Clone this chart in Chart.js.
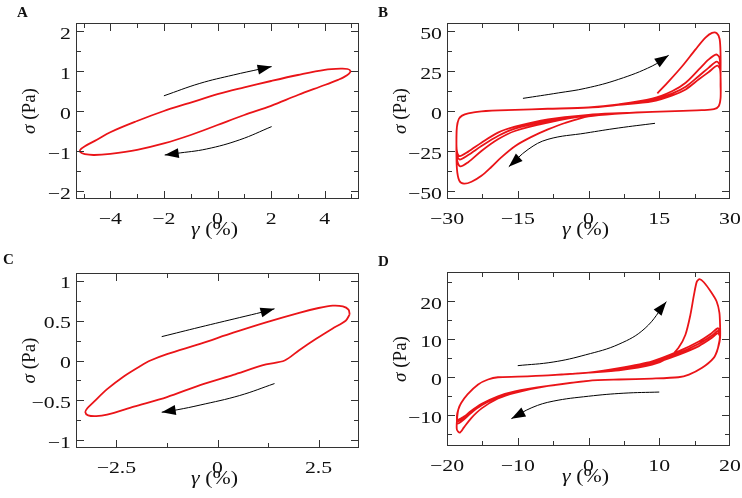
<!DOCTYPE html>
<html>
<head>
<meta charset="utf-8">
<script src="https://cdn.jsdelivr.net/npm/chart.js@4.4.0/dist/chart.umd.min.js"></script>
<style>
	html, body { margin: 0; padding: 0; background: #fff; }
	#wrap { position: relative; width: 742px; height: 498px; overflow: hidden; }
	canvas { position: absolute; }
</style>
</head>
<body>
<div id="wrap">
	<canvas id="pA" width="371" height="249" style="left:0;top:0"></canvas>
	<canvas id="pB" width="371" height="249" style="left:371px;top:0"></canvas>
	<canvas id="pC" width="371" height="249" style="left:0;top:249px"></canvas>
	<canvas id="pD" width="371" height="249" style="left:371px;top:249px"></canvas>
</div>
<script>
const FONT = "'Liberation Serif', 'Times New Roman', Times, serif";
const RED = '#ea1418';
const FRAME = '#333';
const TEXT = '#111';
const STRETCH = 1.28; // the source lettering is wide

// ---- panel A ----
const aXTicks = [-4, -2, 0, 2, 4];
const aXMinor = [-5, -3, -1, 1, 3, 5];
const aYTicks = [-2, -1, 0, 1, 2];
const aYMinor = [-1.5, -0.5, 0.5, 1.5];
const aLoop = [[-1.1,0.19],[-1,0.21],[0,0.42],[1,0.59],[2,0.75],[3,0.9],[4,1.03],[4.6,1.06],[4.85,1.05],[4.96,1.0],[4.9,0.93],[4.7,0.84],
	[4.5,0.78],[4,0.65],[3,0.4],[2,0.13],[1,-0.1],[0,-0.35],[-1,-0.6],[-2,-0.81],[-3,-0.97],[-4,-1.07],[-4.6,-1.1],
	[-4.95,-1.08],[-5.12,-1.03],[-5.12,-0.97],[-4.95,-0.88],[-4.5,-0.72],[-4,-0.53],[-3,-0.25],[-2,0.0],[-1.1,0.19]];
const aArrowUp = [[-2.0,0.38],[-0.66,0.69],[0.59,0.9],[1.6,1.05],[2.02,1.11]];
const aArrowDown = [[2.02,-0.39],[0.83,-0.72],[-0.41,-0.95],[-1.53,-1.06],[-1.97,-1.1]];

// ---- panel B ----
const bXTicks = [-30, -15, 0, 15, 30];
const bXMinor = [-22.5, -7.5, 7.5, 22.5];
const bYTicks = [-50, -25, 0, 25, 50];
const bYMinor = [-37.5, -12.5, 12.5, 37.5];
const bUp1 = [[14.6,11],[17.1,18.8],[19.9,28.1],[22.7,38.5],[24.8,45.8],[26.2,48.8],[27.2,48.6],[27.8,45],[28,35],[28,20],[28,8],[27.6,3],[26.6,1.1]];
const bDown1 = [[24,0.5],[20,0.1],[13.5,-0.6],[6.4,-1.6],[0,-3.4],[-5,-7.5],[-8.6,-11.5],[-12.1,-16.2],[-15.6,-22],[-18.5,-29],
	[-20.6,-35],[-22.7,-40.5],[-24.8,-44.2],[-26.4,-45.4],[-27.4,-43.5],[-27.9,-36],[-28,-22],[-27.9,-10],[-27.5,-5],[-26.8,-2.9],
	[-25.5,-1.5],[-22.7,-0.2],[-15.6,0.7],[-8.6,1.4],[0,2.3],[6.4,4.2]];
const bUp2 = [[13.5,7.7],[17.8,12.5],[20.6,17.7],[23.4,26],[25.5,32.3],[27.1,35.3],[27.8,33],[28,22],[28,8],[27.6,3],[26.6,1.1]];
const bDown2 = [[24,0.5],[20,0.1],[13.5,-0.6],[6.4,-1.6],[0,-2.8],[-8.6,-7.3],[-15.6,-12.5],[-19.2,-17.7],[-22.7,-25],[-25.5,-32],
	[-27.2,-34.6],[-27.9,-30],[-28,-20],[-27.9,-10],[-27.5,-5],[-26.8,-2.9],[-25.5,-1.5],[-22.7,-0.2],[-15.6,0.7],[-8.6,1.4],[0,2.2],[6.4,4.0]];
const bUp3 = [[13.5,6.9],[17.8,11],[20.6,15.2],[23.4,21.9],[25.5,27.1],[27.2,30.8],[27.9,28],[28,18],[28,8],[27.6,3],[26.6,1.1]];
const bDown3 = [[24,0.5],[20,0.1],[13.5,-0.6],[6.4,-1.5],[0,-2.6],[-8.6,-6.3],[-15.6,-11],[-19.2,-15.6],[-22.7,-21.9],[-25.5,-27.5],
	[-27.3,-30.3],[-27.9,-27],[-28,-18],[-27.9,-10],[-27.5,-5],[-26.8,-2.9],[-25.5,-1.5],[-22.7,-0.2],[-15.6,0.7],[-8.6,1.3],[0,2.1],[6.4,3.8]];
const bUp4 = [[13.5,6.0],[17.8,9.8],[20.6,13.5],[23.4,19.8],[25.5,24.4],[27.3,28.3],[27.9,26],[28,16],[28,8],[27.6,3],[26.6,1.1]];
const bDown4 = [[24,0.5],[20,0.1],[13.5,-0.6],[6.4,-1.4],[0,-2.4],[-8.6,-5.2],[-15.6,-9.8],[-19.2,-13.5],[-22.7,-19.8],[-25.5,-25.4],
	[-27.3,-28.2],[-27.9,-25],[-28,-16],[-27.9,-10],[-27.5,-5],[-26.8,-2.9],[-25.5,-1.5],[-22.7,-0.2],[-15.6,0.7],[-8.6,1.3],[0,2.1]];
const bArrowUp = [[-13.9,7.9],[-6.4,11.3],[-0.6,14.2],[6.4,19.8],[13.5,28.1],[17,34.8]];
const bArrowDown = [[14.1,-7.7],[6.4,-10.6],[-0.6,-13.8],[-8.6,-17.7],[-12.8,-24],[-16.9,-34.8]];

// ---- panel C ----
const cXTicks = [-2.5, 0, 2.5];
const cXMinor = [-1.25, 1.25];
const cYTicks = [-1, -0.5, 0, 0.5, 1];
const cYMinor = [-0.75, -0.25, 0.25, 0.75];
const cLoop = [[3.27,0.58],[3.24,0.64],[3.1,0.68],[2.85,0.69],[2.5,0.66],[2.02,0.6],[1.2,0.48],[0.39,0.35],[-0.43,0.21],[-1.25,0.08],[-1.66,0.0],
	[-1.91,-0.07],[-2.32,-0.2],[-2.73,-0.36],[-3.06,-0.52],[-3.22,-0.6],[-3.27,-0.65],[-3.2,-0.69],[-3.0,-0.7],[-2.73,-0.68],[-2.07,-0.58],
	[-1.25,-0.46],[-0.43,-0.31],[0.39,-0.18],[1.2,-0.05],[1.66,0.0],[2.02,0.13],[2.43,0.27],[2.84,0.4],[3.17,0.5],[3.27,0.58]];
const cArrowUp = [[-1.38,0.3],[-0.43,0.42],[0.55,0.54],[1.12,0.61],[1.41,0.65]];
const cArrowDown = [[1.41,-0.29],[0.55,-0.44],[-0.43,-0.56],[-1.0,-0.62],[-1.38,-0.65]];

// ---- panel D ----
const dXTicks = [-20, -10, 0, 10, 20];
const dXMinor = [-15, -5, 5, 15];
const dYTicks = [-10, 0, 10, 20];
const dYMinor = [-15, -5, 5, 15, 25];
const dUp1 = [[0,1.2],[4.3,1.8],[9,3.3],[11.3,5.1],[12.7,7.7],[13.7,11.2],[14.4,16.4],[14.9,21.6],[15.3,25.1],[15.7,25.8],[16.3,25],
	[17.3,22.5],[18.1,20],[18.5,17],[18.6,13.5],[18.6,10.5],[18.3,7.7],[17.7,5.1],[16,2.4],[14.2,0.7],[12.7,0]];
const dDown1 = [[9,-0.35],[4.3,-0.6],[0,-0.95],[-5.7,-2.3],[-10.4,-4.1],[-12.8,-5.6],[-15.1,-8.2],[-16.6,-10.8],[-17.6,-13.2],[-18.2,-14.6],
	[-18.6,-13.8],[-18.6,-11.5],[-18.4,-8.5],[-18,-6.8],[-17.1,-4.5],[-15.6,-1.9],[-14.2,-0.6],[-12.8,0],[-10,0.15],[-5.7,0.5],[0,1.2]];
const dUp2 = [[4.3,2.4],[9,4.2],[12.7,6.8],[15.6,9.4],[17.4,11.6],[18.3,12.9],[18.6,11.5],[18.3,7.7],[17.7,5.1],[16,2.4],[14.2,0.7],[12.7,0]];
const dDown2 = [[9,-0.35],[4.3,-0.6],[0,-0.95],[-5.7,-2.3],[-10.4,-3.9],[-12.8,-5.2],[-15.1,-7.4],[-16.6,-9.4],[-17.8,-11.4],[-18.5,-12.2],
	[-18.6,-11],[-18.4,-8.5],[-18,-6.8],[-17.1,-4.5],[-15.6,-1.9],[-14.2,-0.6],[-12.8,0],[-10,0.15],[-5.7,0.5],[0,1.2]];
const dUp3 = [[4.3,2.2],[9,3.9],[12.7,6.3],[15.6,8.8],[17.4,10.9],[18.3,12.2],[18.6,11],[18.3,7.7],[17.7,5.1],[16,2.4],[14.2,0.7],[12.7,0]];
const dDown3 = [[9,-0.35],[4.3,-0.6],[0,-0.95],[-5.7,-2.3],[-10.4,-3.7],[-12.8,-5.0],[-15.1,-7.0],[-16.6,-8.9],[-17.8,-10.8],[-18.5,-11.6],
	[-18.6,-10.5],[-18.4,-8.5],[-18,-6.8],[-17.1,-4.5],[-15.6,-1.9],[-14.2,-0.6],[-12.8,0],[-10,0.15],[-5.7,0.5],[0,1.2]];
const dUp4 = [[4.3,2.0],[9,3.6],[12.7,5.9],[15.6,8.2],[17.4,10.3],[18.3,11.6],[18.6,10.5],[18.3,7.7],[17.7,5.1],[16,2.4],[14.2,0.7],[12.7,0]];
const dDown4 = [[9,-0.35],[4.3,-0.6],[0,-0.95],[-5.7,-2.3],[-10.4,-3.8],[-12.8,-5.1],[-15.1,-7.2],[-16.6,-9.1],[-17.8,-10.6],[-18.5,-11.2],
	[-18.6,-10.2],[-18.4,-8.5],[-18,-6.8],[-17.1,-4.5],[-15.6,-1.9],[-14.2,-0.6],[-12.8,0],[-10,0.15],[-5.7,0.5],[0,1.2]];
const dArrowUp = [[-10,3.05],[-5,4.0],[-0.4,5.9],[4.3,8.7],[8,12.9],[11,19.9]];
const dArrowDown = [[10,-3.9],[5,-4.2],[0,-5],[-5,-6.3],[-8,-8],[-10.9,-10.9]];

function fmt(v){
	return String(v).replace('-', '\u2212');
}
function pts(arr){
	return arr.map(p => ({x: p[0], y: p[1]}));
}

// text run with several fonts, centred on cx, optionally stretched sideways
function drawParts(ctx, parts, cx, baseY, sx){
	let total = 0;
	for(const p of parts){
		ctx.font = p.font;
		p.w = ctx.measureText(p.t).width;
		total += p.w;
	}
	ctx.save();
	ctx.translate(cx, baseY);
	ctx.scale(sx, 1);
	let x = -total / 2;
	ctx.textAlign = 'left';
	ctx.textBaseline = 'alphabetic';
	for(const p of parts){
		ctx.font = p.font;
		ctx.fillText(p.t, x, 0);
		x += p.w;
	}
	ctx.restore();
}

function panelPlugin(cfg){
	return {
		id: 'panel' + cfg.letter,
		afterDatasetsDraw(chart){
			const {ctx, chartArea: a, scales: {x, y}} = chart;
			ctx.save();
			// arrow heads
			ctx.fillStyle = '#000';
			for(const arr of cfg.arrows){
				const n = arr.length;
				const tx = x.getPixelForValue(arr[n-1][0]), ty = y.getPixelForValue(arr[n-1][1]);
				const px = x.getPixelForValue(arr[n-2][0]), py = y.getPixelForValue(arr[n-2][1]);
				const ang = Math.atan2(ty - py, tx - px);
				ctx.save();
				ctx.translate(tx, ty);
				ctx.rotate(ang);
				ctx.beginPath();
				ctx.moveTo(0, 0);
				ctx.lineTo(-14, -5);
				ctx.lineTo(-14, 5);
				ctx.closePath();
				ctx.fill();
				ctx.restore();
			}
			// frame
			ctx.strokeStyle = FRAME;
			ctx.lineWidth = 1;
			ctx.strokeRect(Math.round(a.left) + 0.5, Math.round(a.top) + 0.5, Math.round(a.width) - 1, Math.round(a.height) - 1);
			// inward ticks on all four sides
			ctx.beginPath();
			const xt = cfg.xTicks.map(v => [v, 8]).concat(cfg.xMinor.map(v => [v, 5]));
			for(const [v, len] of xt){
				const px = Math.round(x.getPixelForValue(v)) + 0.5;
				if(px < a.left || px > a.right) continue;
				ctx.moveTo(px, a.bottom); ctx.lineTo(px, a.bottom - len);
				ctx.moveTo(px, a.top); ctx.lineTo(px, a.top + len);
			}
			const yt = cfg.yTicks.map(v => [v, 8]).concat(cfg.yMinor.map(v => [v, 5]));
			for(const [v, len] of yt){
				const py = Math.round(y.getPixelForValue(v)) + 0.5;
				if(py < a.top || py > a.bottom) continue;
				ctx.moveTo(a.left, py); ctx.lineTo(a.left + len, py);
				ctx.moveTo(a.right, py); ctx.lineTo(a.right - len, py);
			}
			ctx.stroke();
			// tick labels
			ctx.fillStyle = TEXT;
			ctx.font = '17px ' + FONT;
			ctx.textBaseline = 'alphabetic';
			for(const v of cfg.xTicks){
				ctx.save();
				ctx.translate(x.getPixelForValue(v), a.bottom + 24.5);
				ctx.scale(STRETCH, 1);
				ctx.textAlign = 'center';
				ctx.fillText(fmt(v), 0, 0);
				ctx.restore();
			}
			for(const v of cfg.yTicks){
				ctx.save();
				ctx.translate(a.left - 5, y.getPixelForValue(v) + 7.5);
				ctx.scale(STRETCH, 1);
				ctx.textAlign = 'right';
				ctx.fillText(fmt(v), 0, 0);
				ctx.restore();
			}
			// axis titles
			drawParts(ctx, [
				{t: '\u03b3', font: 'italic 19px ' + FONT},
				{t: ' (%)', font: '19px ' + FONT}
			], (a.left + a.right) / 2 - 3, a.bottom + 35.5, 1.15);
			ctx.save();
			ctx.translate(35, (a.top + a.bottom) / 2);
			ctx.rotate(-Math.PI / 2);
			drawParts(ctx, [
				{t: '\u03c3', font: 'italic 19px ' + FONT},
				{t: ' (Pa)', font: '19px ' + FONT}
			], 0, 0, 1);
			ctx.restore();
			// panel letter
			ctx.font = 'bold 15px ' + FONT;
			ctx.textAlign = 'left';
			ctx.fillText(cfg.letter, cfg.letterX, cfg.letterY);
			ctx.restore();
		}
	};
}

function makePanel(id, cfg){
	const datasets = [{
		data: pts(cfg.curve),
		showLine: true,
		borderColor: RED,
		borderWidth: 1.8,
		pointRadius: 0,
		tension: cfg.tension,
		fill: false
	}];
	for(const arr of cfg.arrows){
		datasets.push({
			data: pts(arr),
			showLine: true,
			borderColor: '#000',
			borderWidth: 1,
			pointRadius: 0,
			tension: 0.4,
			fill: false
		});
	}
	return new Chart(document.getElementById(id), {
		type: 'scatter',
		data: {datasets},
		options: {
			responsive: false,
			animation: false,
			layout: {padding: {left: 0, right: 12, top: cfg.top, bottom: 0}},
			plugins: {legend: {display: false}, tooltip: {enabled: false}},
			scales: {
				x: {
					type: 'linear', min: cfg.xMin, max: cfg.xMax,
					grid: {display: false, drawTicks: false},
					border: {display: false},
					ticks: {display: false},
					afterBuildTicks: s => { s.ticks = cfg.xTicks.map(v => ({value: v})); },
					afterFit: s => { s.height = 249 - cfg.bottom; }
				},
				y: {
					type: 'linear', min: cfg.yMin, max: cfg.yMax,
					grid: {display: false, drawTicks: false},
					border: {display: false},
					ticks: {display: false},
					afterBuildTicks: s => { s.ticks = cfg.yTicks.map(v => ({value: v})); },
					afterFit: s => { s.width = 76; }
				}
			}
		},
		plugins: [panelPlugin(cfg)]
	});
}

makePanel('pA', {
	letter: 'A', letterX: 17, letterY: 17, top: 23, bottom: 199,
	xMin: -5.28, xMax: 5.28, yMin: -2.2, yMax: 2.2,
	xTicks: aXTicks, xMinor: aXMinor, yTicks: aYTicks, yMinor: aYMinor,
	curve: aLoop, arrows: [aArrowUp, aArrowDown], tension: 0.35
});
makePanel('pB', {
	letter: 'B', letterX: 7, letterY: 17, top: 23, bottom: 199,
	xMin: -30, xMax: 30, yMin: -55, yMax: 55,
	xTicks: bXTicks, xMinor: bXMinor, yTicks: bYTicks, yMinor: bYMinor,
	curve: [...bUp1, ...bDown1, ...bUp2, ...bDown2, ...bUp3, ...bDown3, ...bUp4, ...bDown4],
	arrows: [bArrowUp, bArrowDown], tension: 0.3
});
makePanel('pC', {
	letter: 'C', letterX: 3, letterY: 15, top: 24, bottom: 199,
	xMin: -3.5, xMax: 3.5, yMin: -1.1, yMax: 1.1,
	xTicks: cXTicks, xMinor: cXMinor, yTicks: cYTicks, yMinor: cYMinor,
	curve: cLoop, arrows: [cArrowUp, cArrowDown], tension: 0.3
});
makePanel('pD', {
	letter: 'D', letterX: 7, letterY: 17, top: 23, bottom: 197,
	xMin: -20, xMax: 20, yMin: -18.1, yMax: 27.7,
	xTicks: dXTicks, xMinor: dXMinor, yTicks: dYTicks, yMinor: dYMinor,
	curve: [...dUp1, ...dDown1, ...dUp2, ...dDown2, ...dUp3, ...dDown3, ...dUp4, ...dDown4],
	arrows: [dArrowUp, dArrowDown], tension: 0.25
});
</script>
</body>
</html>
